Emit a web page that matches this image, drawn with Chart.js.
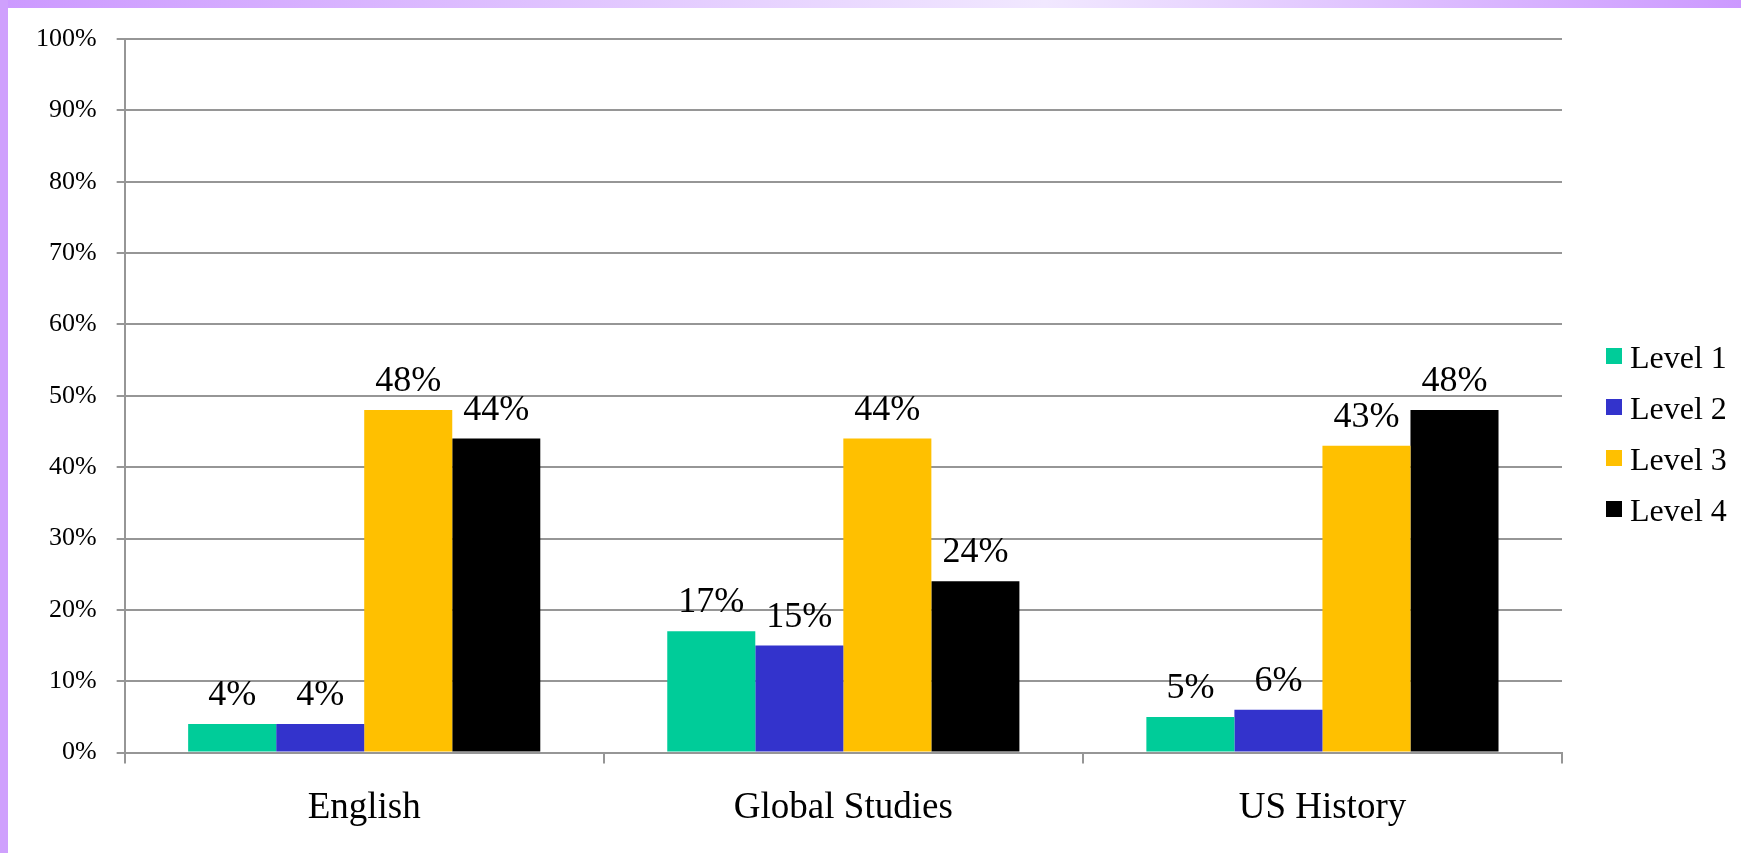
<!DOCTYPE html>
<html>
<head>
<meta charset="utf-8">
<script src="https://cdn.jsdelivr.net/npm/chart.js@4/dist/chart.umd.min.js"></script>
<style>
  html, body { margin: 0; padding: 0; background: #fff; overflow: hidden; }
  #topbar { position: absolute; left: 0; top: 0; width: 1741px; height: 8px;
    background: linear-gradient(to right, #cc99ff, #f1e8ff 60%, #cc99ff); }
  #leftbar { position: absolute; left: 0; top: 0; width: 8px; height: 853px; background: #cfa0fd; }
  #chart { position: absolute; left: 8px; top: 8px; }
</style>
</head>
<body>
<div id="topbar"></div>
<div id="leftbar"></div>
<canvas id="chart" width="1733" height="845"></canvas>
<script>
const subjects = ["English", "Global Studies", "US History"];
const levels = ["Level 1", "Level 2", "Level 3", "Level 4"];
const level1 = [4, 17, 5];
const level2 = [4, 15, 6];
const level3 = [48, 44, 43];
const level4 = [44, 24, 48];
const colors = ["#00cc99", "#3333cc", "#ffc000", "#000000"];

const serif = "'Liberation Serif', 'Times New Roman', serif";
const gridColor = "#969696";

// labels above each bar
const barLabels = {
  id: "barLabels",
  afterDatasetsDraw(chart) {
    const ctx = chart.ctx;
    ctx.save();
    ctx.font = "36px " + serif;
    ctx.fillStyle = "#000";
    ctx.textAlign = "center";
    ctx.textBaseline = "alphabetic";
    chart.data.datasets.forEach((ds, i) => {
      chart.getDatasetMeta(i).data.forEach((bar, j) => {
        ctx.fillText(ds.data[j] + "%", bar.x, bar.y - 19);
      });
    });
    ctx.restore();
  }
};

// legend on the right
const sideLegend = {
  id: "sideLegend",
  afterDraw(chart) {
    const ctx = chart.ctx;
    ctx.save();
    ctx.font = "32px " + serif;
    ctx.textBaseline = "alphabetic";
    chart.data.datasets.forEach((ds, i) => {
      let cy = 348 + i * 51;
      ctx.fillStyle = ds.backgroundColor;
      ctx.fillRect(1598, cy - 8, 16, 16);
      ctx.fillStyle = "#000";
      ctx.fillText(ds.label, 1622, cy + 12);
    });
    ctx.restore();
  }
};

const seriesData = [level1, level2, level3, level4];

new Chart(document.getElementById("chart"), {
  type: "bar",
  data: {
    labels: subjects,
    datasets: levels.map((name, i) => ({
      label: name,
      data: seriesData[i],
      backgroundColor: colors[i],
      categoryPercentage: 0.735,
      barPercentage: 1.0
    }))
  },
  plugins: [barLabels, sideLegend],
  options: {
    responsive: false,
    animation: false,
    layout: { padding: { left: 8, top: 31, right: 179, bottom: 1 } },
    plugins: {
      legend: { display: false },
      tooltip: { enabled: false }
    },
    scales: {
      x: {
        grid: { offset: true, drawOnChartArea: false, color: gridColor, lineWidth: 2, tickLength: 11 },
        border: { color: gridColor, width: 2 },
        ticks: { color: "#000", font: { family: serif, size: 37 }, padding: 22 }
      },
      y: {
        min: 0,
        max: 100,
        afterFit: s => { s.paddingTop = 0; },
        ticks: {
          stepSize: 10,
          color: "#000",
          font: { family: serif, size: 26 },
          padding: 20,
          callback: v => v + "%"
        },
        grid: { color: gridColor, lineWidth: 2, tickLength: 8 },
        border: { color: gridColor, width: 2 }
      }
    }
  }
});
</script>
</body>
</html>
